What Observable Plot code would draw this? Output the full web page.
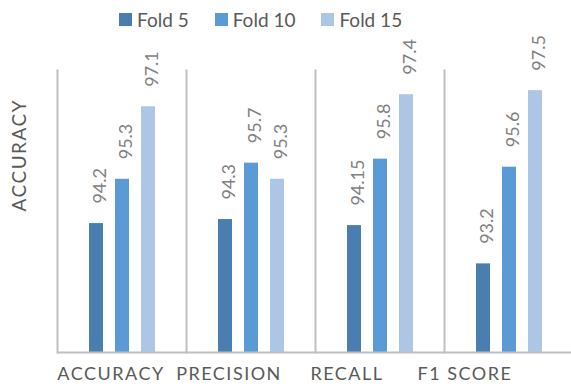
<!DOCTYPE html>
<html>
<head>
<meta charset="utf-8">
<script src="https://cdn.jsdelivr.net/npm/d3@7"></script>
<script src="https://cdn.jsdelivr.net/npm/@observablehq/plot@0.6"></script>
<style>
  html, body { margin: 0; padding: 0; background: #fff; }
  #wrap { position: relative; width: 571px; height: 392px; font-family: Lato, "Open Sans", sans-serif; overflow: hidden; }
  #legend { position: absolute; top: 8px; left: 119px; display: flex; gap: 26px; align-items: center; font-size: 19px; color: #595959; }
  #legend .item { display: flex; align-items: center; gap: 5px; }
  #legend .sw { width: 13px; height: 13px; display: inline-block; }
</style>
</head>
<body>
<div id="wrap"><div id="legend"></div></div>
<script>
const categories = ["ACCURACY", "PRECISION", "RECALL", "F1 SCORE"];
const folds = ["Fold 5", "Fold 10", "Fold 15"];
const fold5 = [94.2, 94.3, 94.15, 93.2];
const fold10 = [95.3, 95.7, 95.8, 95.6];
const fold15 = [97.1, 95.3, 97.4, 97.5];
const yTitle = "ACCURACY";

const colors = ["#4a7eb0", "#5b9bd5", "#adc6e6"];
const yMin = 91, yMax = 98;
const labelShift = [-11, -22, -33, -44];

const series = [fold5, fold10, fold15];
const data = [];
categories.forEach((c, i) => {
  folds.forEach((f, j) => data.push({category: c, fold: f, value: series[j][i]}));
});

const marks = [
  Plot.frame({anchor: "left", stroke: "#c0c0c0", strokeWidth: 2}),
  Plot.barY(data, {fx: "category", x: "fold", y1: yMin, y2: "value", fill: "fold"}),
  Plot.ruleY([yMin], {stroke: "#c0c0c0", strokeWidth: 2}),
  Plot.text(data, {fx: "category", x: "fold", y: "value", text: d => String(d.value),
    rotate: -90, textAnchor: "start", dy: -20, dx: 4, fontSize: 18, fill: "#7f7f7f"}),
  Plot.text([yTitle], {fx: () => categories[0], frameAnchor: "left", text: d => d,
    rotate: -90, dx: -38, fontSize: 19, fill: "#595959"})
];
categories.forEach((c, i) => {
  marks.push(Plot.text([c], {fx: d => d, frameAnchor: "bottom", text: d => d,
    dy: 27, dx: labelShift[i], fontSize: 18, fill: "#595959"}));
});

const chart = Plot.plot({
  width: 571,
  height: 392,
  marginTop: 70,
  marginBottom: 40,
  marginLeft: 57,
  marginRight: -2,
  style: {fontFamily: "Lato, 'Open Sans', sans-serif", background: "transparent"},
  fx: {domain: categories, padding: 0, axis: null},
  x: {domain: folds, paddingInner: 0.472, paddingOuter: 1.17, axis: null},
  y: {domain: [yMin, yMax], axis: null},
  color: {domain: folds, range: colors},
  marks
});

chart.querySelectorAll("text").forEach(t => {
  if (categories.includes(t.textContent)) t.setAttribute("letter-spacing", "1.5");
});

document.getElementById("wrap").prepend(chart);

const legend = document.getElementById("legend");
folds.forEach((f, j) => {
  const item = document.createElement("div");
  item.className = "item";
  const sw = document.createElement("span");
  sw.className = "sw";
  sw.style.background = colors[j];
  const lab = document.createElement("span");
  lab.textContent = f;
  item.append(sw, lab);
  legend.append(item);
});
</script>
</body>
</html>
